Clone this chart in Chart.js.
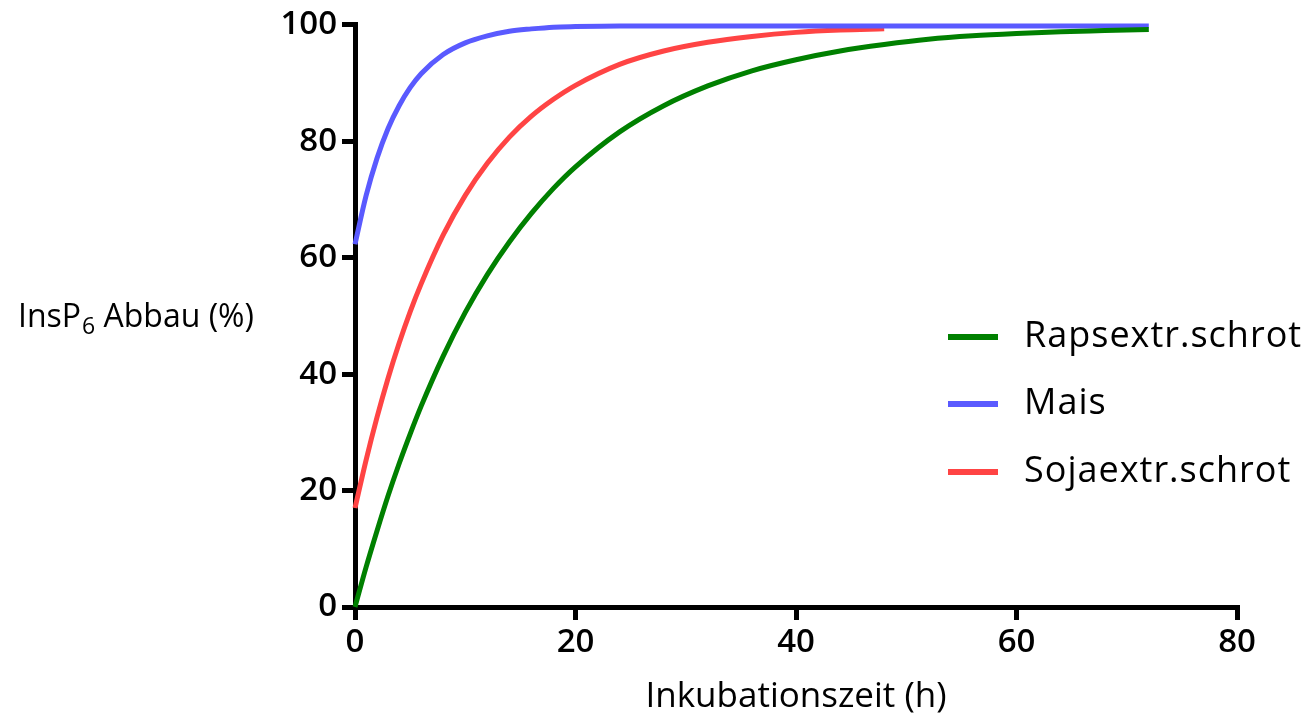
<!DOCTYPE html>
<html>
<head>
<meta charset="utf-8">
<script src="https://cdn.jsdelivr.net/npm/chart.js@4/dist/chart.umd.min.js"></script>
<style>
  html, body { margin: 0; padding: 0; background: #fff; }
  #wrap { width: 1313px; height: 719px; position: relative; }
</style>
</head>
<body>
<div id="wrap"><canvas id="c" width="1313" height="719"></canvas></div>
<script>
// Series names
const seriesNames = ['Rapsextr.schrot', 'Mais', 'Sojaextr.schrot'];

// Incubation time (h) sample points per series
const timesRaps = [0,1,2,3,4,5,6,8,10,12,14,16,18,20,24,28,32,36,40,44,48,52,56,60,64,68,72];
const timesMais = [0,1,2,3,4,5,6,8,10,12,14,16,18,20,24,28,32,36,40,44,48,52,56,60,64,68,72];
const timesSoja = [0,1,2,3,4,5,6,8,10,12,14,16,18,20,24,28,32,36,40,44,48];

// InsP6 Abbau (%)
const rapsValues = [0,6.8,13.1,19.1,24.6,29.7,34.5,43.1,50.6,57.1,62.7,67.6,71.9,75.6,81.6,86.1,89.5,92.1,94.0,95.5,96.6,97.5,98.1,98.5,98.8,99.0,99.2];
const maisValues = [62.3,70.6,77.1,82.2,86.1,89.2,91.6,94.9,96.9,98.1,98.9,99.3,99.6,99.7,99.8,99.8,99.8,99.8,99.8,99.8,99.8,99.8,99.8,99.8,99.8,99.8,99.8];
const sojaValues = [17,25.2,32.6,39.3,45.3,50.7,55.5,63.9,70.7,76.2,80.7,84.3,87.2,89.6,93.2,95.5,97.0,98.0,98.7,99.1,99.3];

// Axis ticks
const xTicks = [0,20,40,60,80];
const yTicks = [0,20,40,60,80,100];

const colors = ['#008000', '#5a5aff', '#ff4444'];

function toPoints(xs, ys) { return xs.map((x, i) => ({x: x, y: ys[i]})); }

const FONT = "'Open Sans', 'DejaVu Sans', sans-serif";

const overlayPlugin = {
  id: 'overlay',
  afterDraw(chart) {
    const ctx = chart.ctx;
    ctx.save();
    // Y axis title with subscript
    ctx.fillStyle = '#000';
    ctx.textBaseline = 'alphabetic';
    ctx.textAlign = 'left';
    const base = 327;
    let x = 18;
    ctx.font = "400 32px " + FONT;
    ctx.fillText('InsP', x, base);
    x += ctx.measureText('InsP').width + 1;
    ctx.font = "400 23px " + FONT;
    ctx.fillText('6', x, base + 7);
    x += ctx.measureText('6').width;
    ctx.font = "400 32px " + FONT;
    ctx.fillText(' Abbau (%)', x, base);

    // Legend
    const rowsY = [337, 404, 472];
    chart.data.datasets.forEach((ds, i) => {
      const y = rowsY[i];
      ctx.strokeStyle = ds.borderColor;
      ctx.lineWidth = 6;
      ctx.lineCap = 'butt';
      ctx.beginPath();
      ctx.moveTo(948, y);
      ctx.lineTo(998, y);
      ctx.stroke();
      ctx.fillStyle = '#000';
      ctx.font = "400 36px " + FONT;
      if ('letterSpacing' in ctx) ctx.letterSpacing = '1px';
      ctx.textBaseline = 'middle';
      ctx.fillText(ds.label, 1024, y);
      if ('letterSpacing' in ctx) ctx.letterSpacing = '0px';
    });
    ctx.restore();
  }
};

new Chart(document.getElementById('c'), {
  type: 'line',
  data: {
    datasets: [
      { label: seriesNames[0], data: toPoints(timesRaps, rapsValues), borderColor: colors[0] },
      { label: seriesNames[1], data: toPoints(timesMais, maisValues), borderColor: colors[1] },
      { label: seriesNames[2], data: toPoints(timesSoja, sojaValues), borderColor: colors[2] }
    ]
  },
  options: {
    responsive: false,
    animation: false,
    devicePixelRatio: 1,
    layout: { padding: { left: 0, right: 76, top: 23, bottom: 0 } },
    elements: {
      line: { borderWidth: 5, cubicInterpolationMode: 'monotone', fill: false },
      point: { radius: 0, hoverRadius: 0 }
    },
    clip: false,
    plugins: { legend: { display: false }, tooltip: { enabled: false }, title: { display: false } },
    scales: {
      x: {
        type: 'linear', min: 0, max: 80,
        afterFit(s) { s.height = 112; },
        afterBuildTicks(s) { s.ticks = xTicks.map(v => ({value: v})); },
        grid: { drawOnChartArea: false, drawTicks: true, tickLength: 13, color: '#000', lineWidth: 5 },
        border: { display: true, color: '#000', width: 5 },
        ticks: { color: '#000', padding: 3, font: { family: FONT, size: 33, weight: '600' } },
        title: { display: true, text: 'Inkubationszeit (h)', color: '#000', padding: { top: 0, bottom: 1 }, font: { family: FONT, size: 35, weight: '400' } }
      },
      y: {
        type: 'linear', min: 0, max: 100,
        afterFit(s) { s.width = 355; },
        afterBuildTicks(s) { s.ticks = yTicks.map(v => ({value: v})); },
        grid: { drawOnChartArea: false, drawTicks: true, tickLength: 13, color: '#000', lineWidth: 5 },
        border: { display: true, color: '#000', width: 5 },
        ticks: { color: '#000', padding: 5, font: { family: FONT, size: 33, weight: '600' } }
      }
    }
  },
  plugins: [overlayPlugin]
});
</script>
</body>
</html>
